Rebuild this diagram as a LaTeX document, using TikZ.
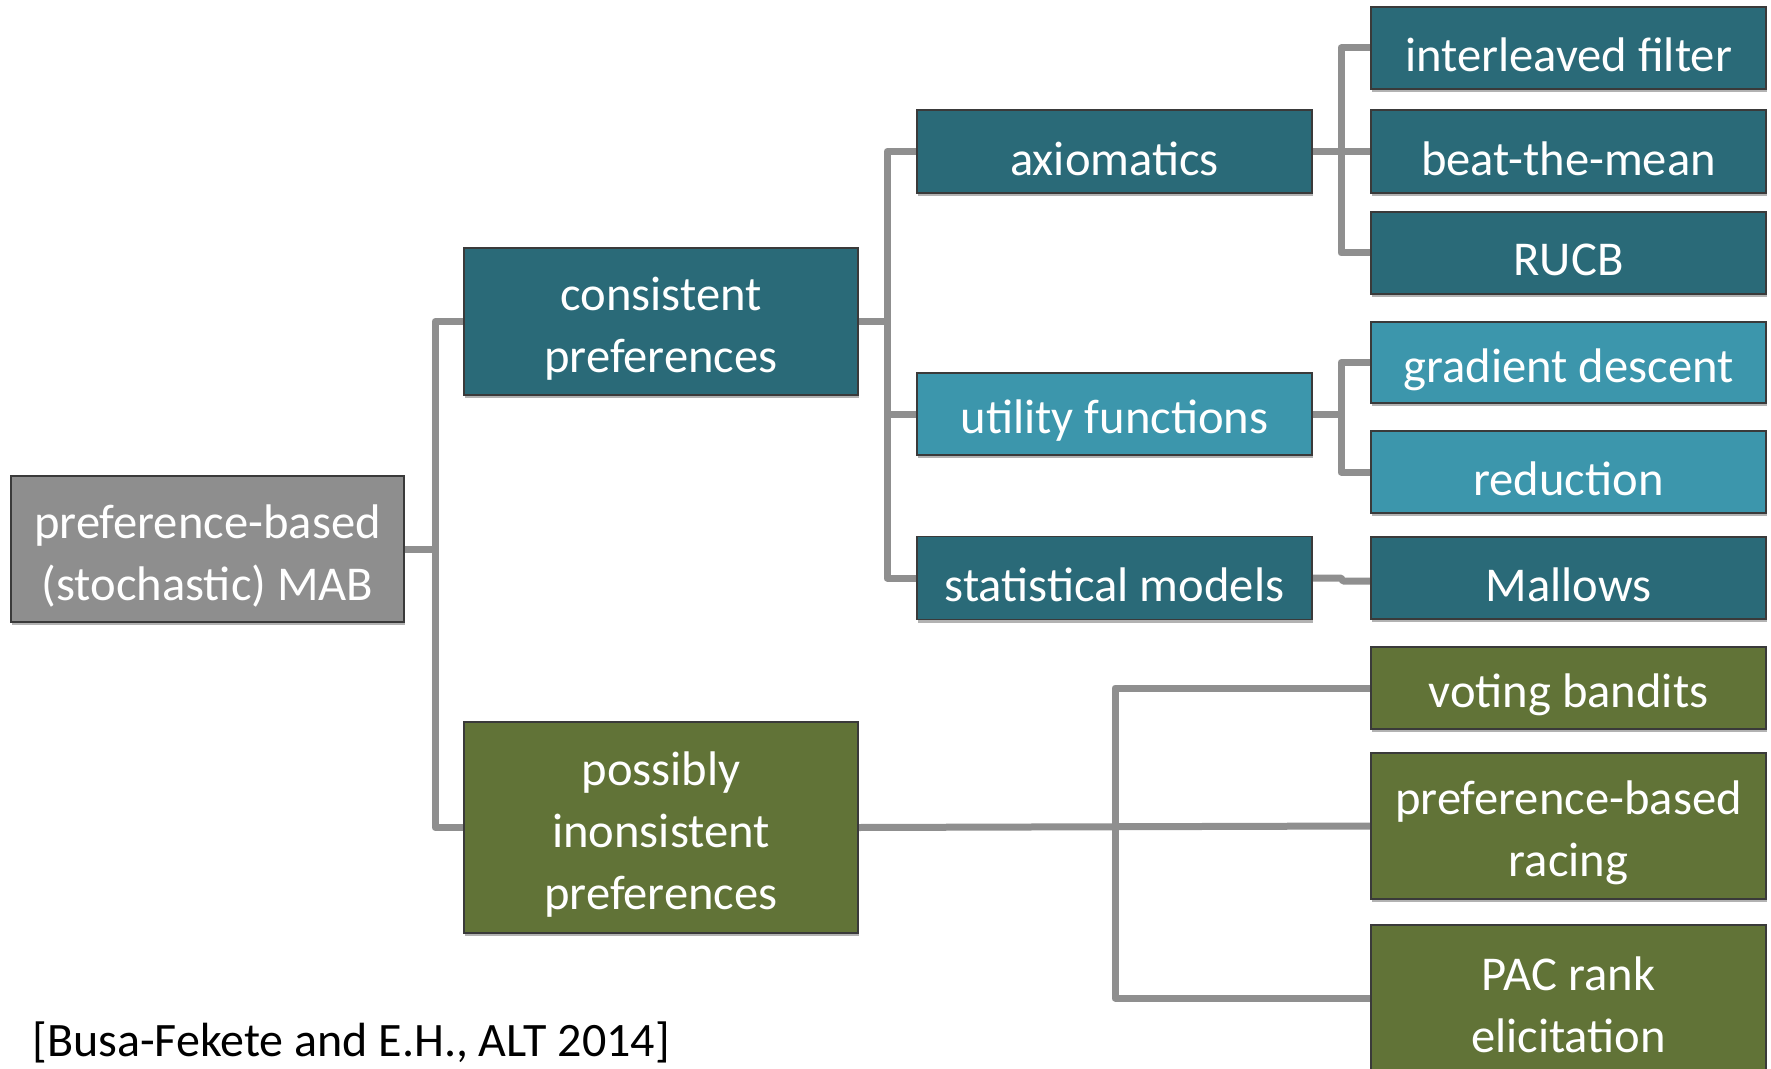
\documentclass[tikz,border=0pt]{standalone}
\usepackage{fontspec}
\setmainfont{Carlito}
\usetikzlibrary{shadows,backgrounds,calc}
\definecolor{tealdark}{HTML}{2A6A78}
\definecolor{teallight}{HTML}{3C96AC}
\definecolor{olive}{HTML}{617337}
\definecolor{rootgrey}{HTML}{8E8E8E}
\definecolor{linegrey}{HTML}{8F8F8F}
\definecolor{edgegrey}{HTML}{3A3A3A}
\tikzset{
  box/.style={draw=edgegrey, line width=0.8pt, inner sep=0pt,
    drop shadow={shadow xshift=0.4pt, shadow yshift=-1.6pt, opacity=0.3, fill=black}},
  dk/.style={box, fill=tealdark},
  lt/.style={box, fill=teallight},
  gr/.style={box, fill=olive},
  rt/.style={box, fill=rootgrey},
  txt/.style={text=white, align=center, inner sep=0pt,
    font=\fontsize{24.3pt}{31pt}\selectfont},
  conn/.style={draw=linegrey, line width=3.5pt, line join=round, line cap=butt},
}
% #1 style, #2 width, #3 height, #4 name, #5 position, #6 text
\newcommand{\mkbox}[6]{%
  \node[#1, minimum width=#2, minimum height=#3] (#4) at (#5) {};
  \node[txt] (#4t) at ($(#4.center)+(0,7)$) {#6};}
\begin{document}
\begin{tikzpicture}[x=0.5pt,y=-0.5pt]
\useasboundingbox (0,0) rectangle (1771,1069);
% level 0
\mkbox{rt}{196.5pt}{73pt}{root}{207.5,549}{preference-based\\(stochastic) MAB}
% level 1
\mkbox{dk}{197pt}{73.5pt}{cons}{661,321.5}{consistent\\preferences}
\mkbox{gr}{197pt}{105.5pt}{poss}{661,827.5}{possibly\\inonsistent\\preferences}
% level 2
\mkbox{dk}{197.5pt}{41.5pt}{axi}{1114.5,151.5}{axiomatics}
\mkbox{lt}{197.5pt}{41pt}{util}{1114.5,414}{utility functions}
\mkbox{dk}{197.5pt}{41.5pt}{stat}{1114.5,578}{statistical models}
% level 3
\mkbox{dk}{197.5pt}{41pt}{inter}{1568.5,48}{interleaved filter}
\mkbox{dk}{197.5pt}{41.5pt}{beat}{1568.5,151.5}{beat-the-mean}
\mkbox{dk}{197.5pt}{41pt}{rucb}{1568.5,253}{RUCB}
\mkbox{lt}{197.5pt}{40.5pt}{grad}{1568.5,362.5}{gradient descent}
\mkbox{lt}{197.5pt}{41pt}{red}{1568.5,472}{reduction}
\mkbox{dk}{197.5pt}{41pt}{mall}{1568.5,578}{Mallows}
\mkbox{gr}{197.5pt}{41pt}{vote}{1568.5,688}{voting bandits}
\mkbox{gr}{197.5pt}{73pt}{race}{1568.5,826}{preference-based\\racing}
\mkbox{gr}{197.5pt}{73pt}{pac}{1568.5,998}{PAC rank\\elicitation}
% citation
\node[anchor=west, inner sep=0pt, font=\fontsize{24pt}{28pt}\selectfont] (cite) at (32,1042) {[Busa-Fekete and E.H., ALT 2014]};
% connectors
\coordinate (j1) at (435,549);
\coordinate (j2) at (887,321.5);
\coordinate (j3) at (1341,151.5);
\coordinate (j4) at (1341,414);
\coordinate (j5) at (1115,827.5);
\begin{scope}[on background layer]
\draw[conn] (root.east) -- (j1);
\draw[conn] (cons.west) -| (j1) |- (poss.west);
\draw[conn] (cons.east) -- (j2);
\draw[conn] (axi.west) -| (j2) |- (stat.west);
\draw[conn] (util.west) -- (util.west -| j2);
\draw[conn] (axi.east) -- (beat.west);
\draw[conn] (inter.west) -| (j3) |- (rucb.west);
\draw[conn] (util.east) -- (j4);
\draw[conn] (grad.west) -| (j4) |- (red.west);
\draw[conn] (stat.east) -- (1341,578) -- (1343,581) -- ($(mall.west)+(0,3)$);
\draw[conn] (poss.east) -- (race.west);
\draw[conn] (vote.west) -| (j5) |- (pac.west);
\end{scope}
\end{tikzpicture}
\end{document}
